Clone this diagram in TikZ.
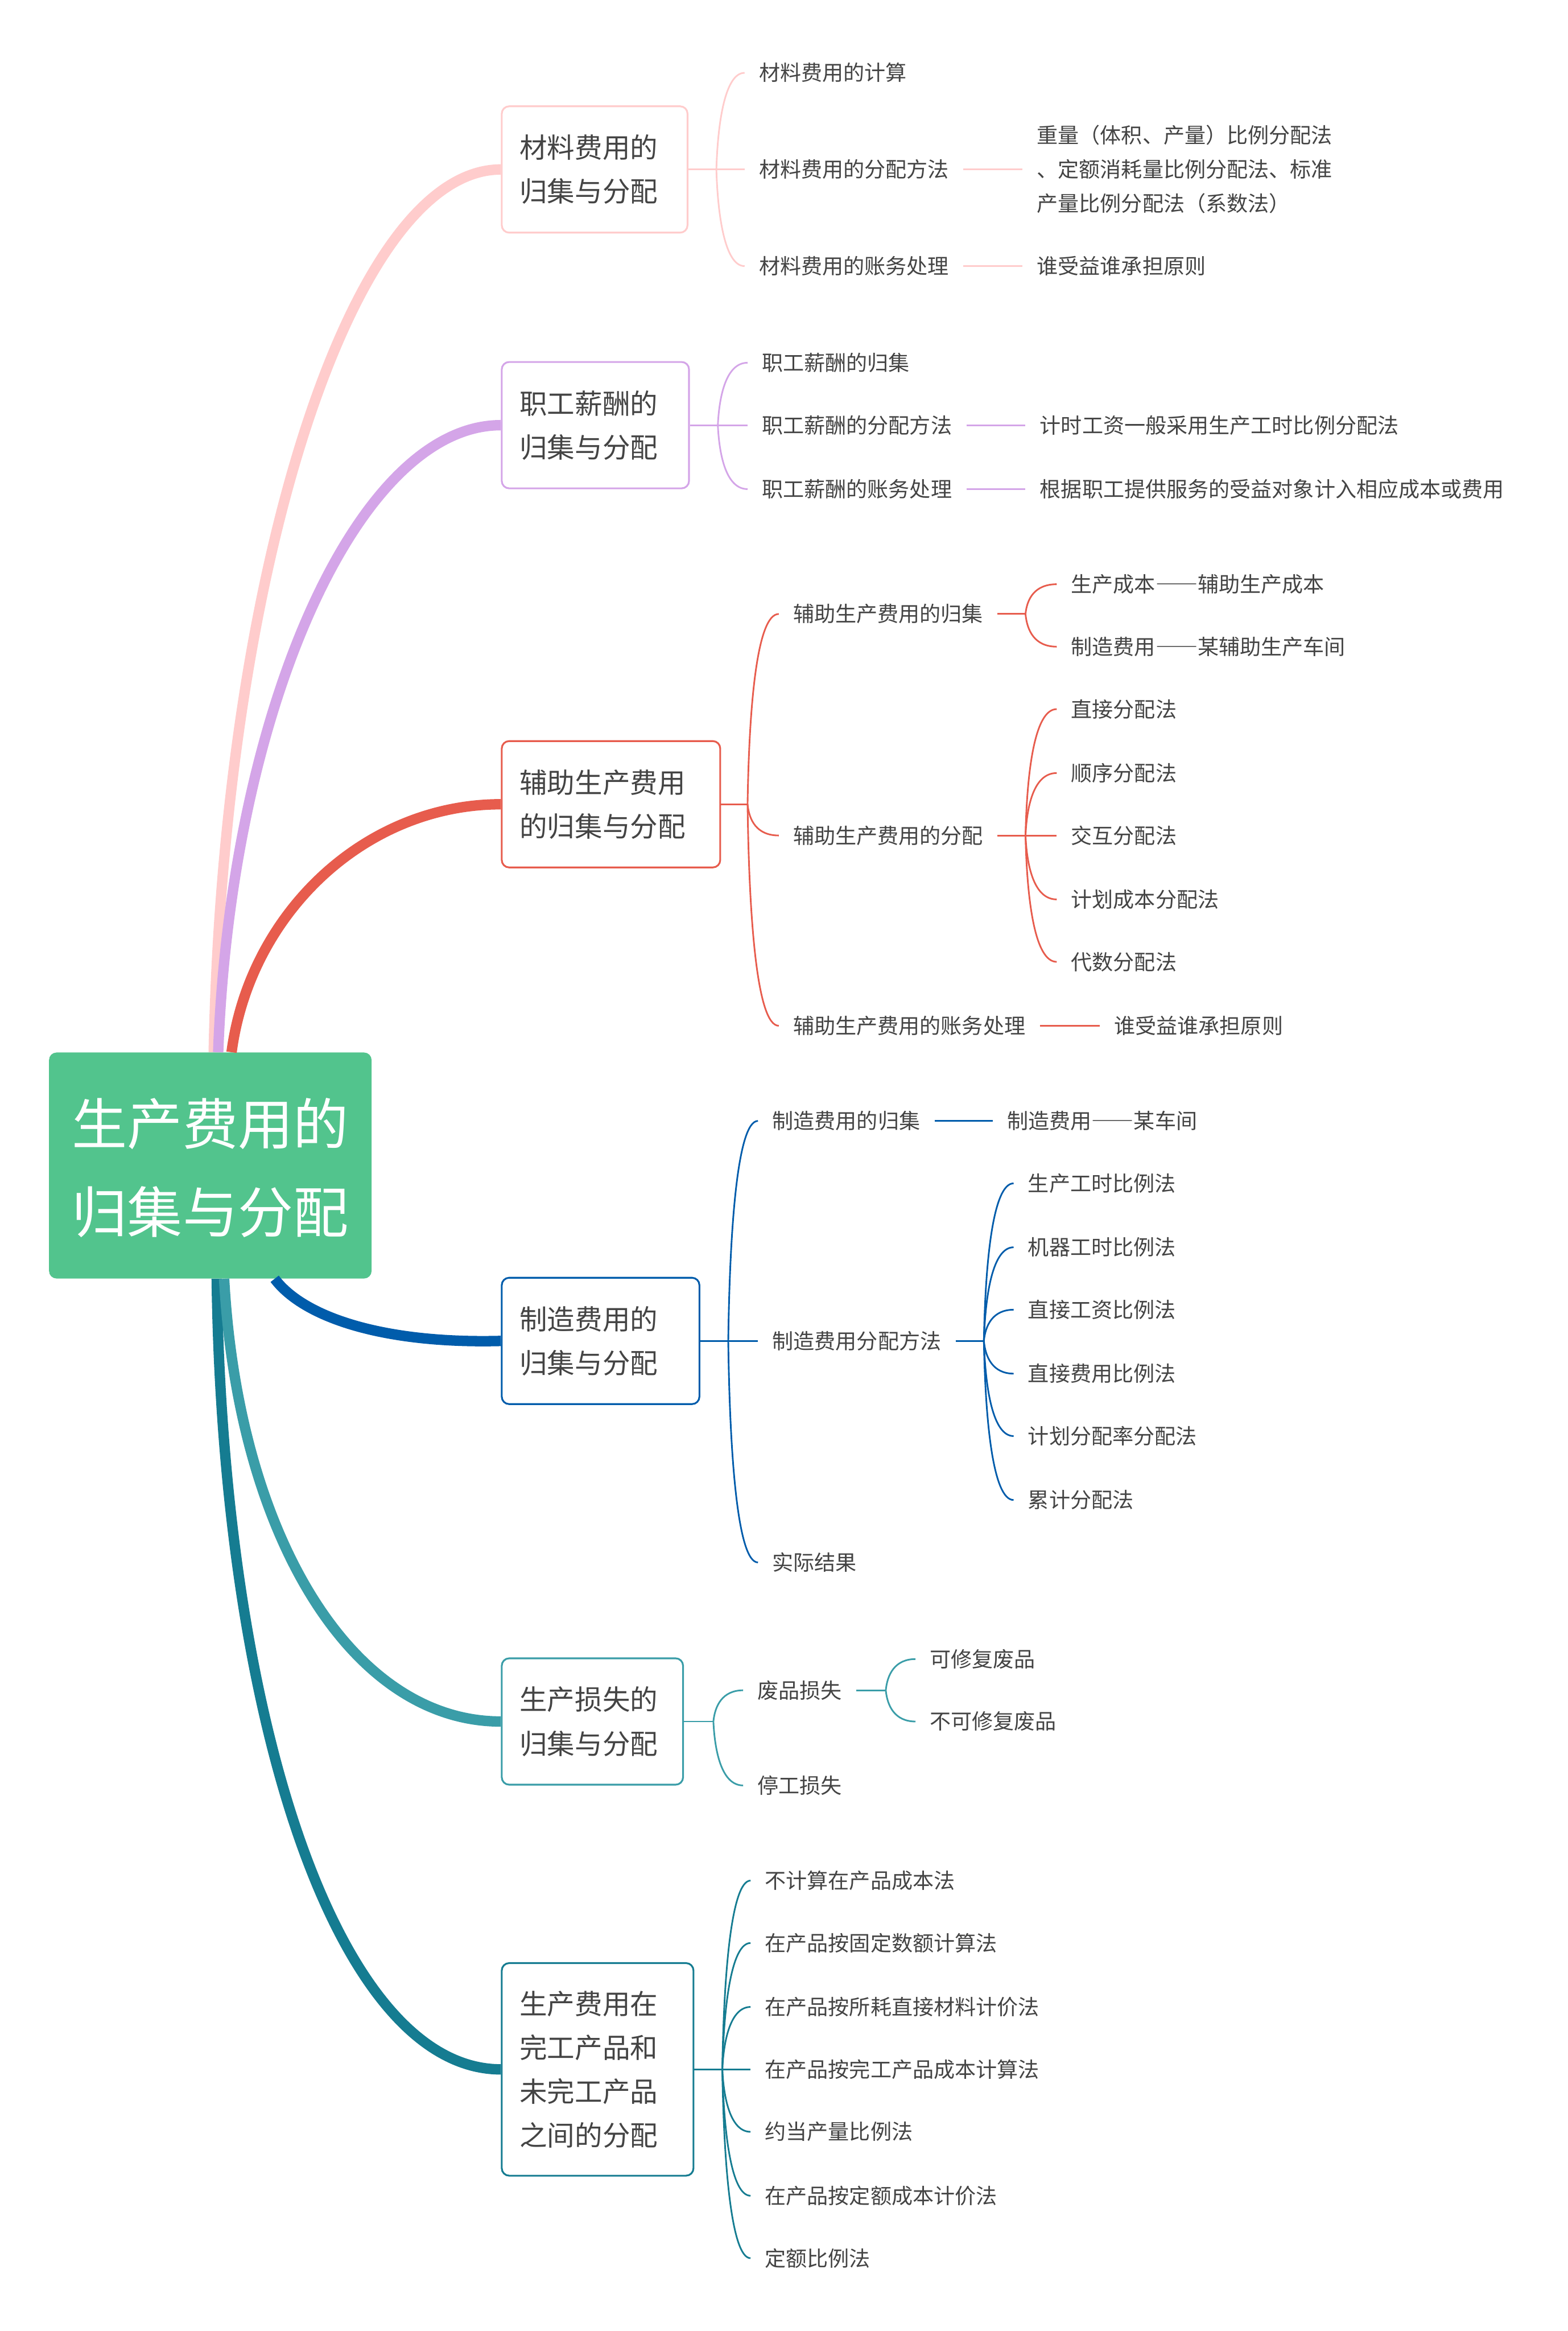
\documentclass[tikz,border=0pt]{standalone}
\usepackage{fontspec}
\setmainfont{Noto Sans CJK SC}
\newfontfamily\widefont[RawFeature=+fwid]{Noto Sans CJK SC}
\usepackage{xcolor}
\usepackage{tikz}
\usetikzlibrary{calc}
\definecolor{rootgreen}{RGB}{82,196,141}
\definecolor{matpink}{RGB}{255,204,204}
\definecolor{paypurple}{RGB}{212,165,232}
\definecolor{auxred}{RGB}{231,92,77}
\definecolor{ovhblue}{RGB}{0,92,171}
\definecolor{losteal}{RGB}{58,157,168}
\definecolor{wipteal}{RGB}{21,124,145}
\definecolor{inkgray}{RGB}{68,68,68}
\newcommand{\leaffont}{\fontsize{14.2}{23}\selectfont}
\newcommand{\topicfont}{\fontsize{18.6}{29.5}\selectfont}
\newcommand{\rootfont}{\fontsize{37.2}{59}\selectfont}
\newcommand{\dashes}{{\widefont ——}}

\begin{document}
\begin{tikzpicture}[x=1pt, y=-1pt,
  every node/.style={text=inkgray, font=\leaffont},
  root/.style={rectangle, fill=rootgreen, rounded corners=5pt,
               minimum width=217pt, minimum height=152pt,
               align=center, text=white, font=\rootfont},
  topic/.style 2 args={rectangle, draw=#1, fill=white, line width=1.2pt,
               rounded corners=5pt, anchor=west, inner xsep=12pt,
               text width=#2, align=left, minimum height=85pt, font=\topicfont},
  leaf/.style={anchor=west, inner xsep=9.5pt, inner ysep=2pt,
               text height=11.6pt, text depth=0.9pt},
  note/.style={anchor=west, inner xsep=9.5pt, align=left},
  limb/.style={draw=#1, line width=7pt},
  twig/.style={draw=#1, line width=1.1pt},
  fork/.style={to path={.. controls ($(\tikztostart)!.5!(\tikztostart |- \tikztotarget)+(1,0)$)
               and ($(\tikztostart |- \tikztotarget)+(6,0)$) .. (\tikztotarget)}}
]
\path[use as bounding box, fill=white] (0,0) rectangle (1055,1568);

% Root and the six topics
\node[root, text depth=0pt] (root) at (141.5,784) {生产费用的\\归集与分配};
\node[topic={matpink}{101pt}]   (m1) at (337,114)  {材料费用的\\归集与分配};
\node[topic={paypurple}{102pt}] (m2) at (337,286)  {职工薪酬的\\归集与分配};
\node[topic={auxred}{123pt}]    (m3) at (337,541)  {辅助生产费用\\的归集与分配};
\node[topic={ovhblue}{109pt}]   (m4) at (337,902)  {制造费用的\\归集与分配};
\node[topic={losteal}{98pt}]    (m5) at (337,1158) {生产损失的\\归集与分配};
\node[topic={wipteal}{105pt}, minimum height=143pt] (m6) at (337,1392)
  {生产费用在\\完工产品和\\未完工产品\\之间的分配};

% Thick limbs from the root
\draw[limb=matpink]   ($(root.north west)+(111,0)$) .. controls (150,390) and (235,114) .. (m1.west);
\draw[limb=paypurple] ($(root.north west)+(114,0)$) .. controls (155,480) and (240,286) .. (m2.west);
\draw[limb=auxred]    ($(root.north west)+(123,0)$) .. controls (168,615) and (245,541) .. (m3.west);
\draw[limb=ovhblue]   ($(root.south west)+(152,0)$) .. controls (205,887) and (260,904) .. (m4.west);
\draw[limb=wipteal]   ($(root.south west)+(113,0)$) .. controls (150,1160) and (228,1392) .. (m6.west);
\draw[limb=losteal]   ($(root.south west)+(118,0)$) .. controls (160,1030) and (235,1158) .. (m5.west);

% Material costs
\coordinate (j1) at (482,114);
\foreach \n/\y/\t in {a1/49/材料费用的计算, a2/114/材料费用的分配方法, a3/179/材料费用的账务处理}
  \node[leaf] (\n) at (501,\y) {\t};
\node[note] (a2x) at (688,114) {重量（体积、产量）比例分配法\\、定额消耗量比例分配法、标准\\产量比例分配法（系数法）};
\node[leaf] (a3x) at (688,179) {谁受益谁承担原则};
\draw[twig=matpink] (m1.east) -- (j1);
\foreach \c in {a1,a2,a3} \draw[twig=matpink] (j1) to[fork] (\c.west);
\draw[twig=matpink] (a2) -- (a2x);
\draw[twig=matpink] (a3) -- (a3x);

% Payroll
\coordinate (j2) at (483,286);
\foreach \n/\y/\t in {b1/244/职工薪酬的归集, b2/286/职工薪酬的分配方法, b3/329/职工薪酬的账务处理}
  \node[leaf] (\n) at (503,\y) {\t};
\node[leaf] (b2x) at (690,286) {计时工资一般采用生产工时比例分配法};
\node[leaf] (b3x) at (690,329) {根据职工提供服务的受益对象计入相应成本或费用};
\draw[twig=paypurple] (m2.east) -- (j2);
\foreach \c in {b1,b2,b3} \draw[twig=paypurple] (j2) to[fork] (\c.west);
\draw[twig=paypurple] (b2) -- (b2x);
\draw[twig=paypurple] (b3) -- (b3x);

% Auxiliary production
\coordinate (j3) at (503,541);
\foreach \n/\y/\t in {c1/413/辅助生产费用的归集, c2/562/辅助生产费用的分配, c3/690/辅助生产费用的账务处理}
  \node[leaf] (\n) at (524,\y) {\t};
\node[leaf] (c3x) at (740,690) {谁受益谁承担原则};
\draw[twig=auxred] (m3.east) -- (j3);
\foreach \c in {c1,c2,c3} \draw[twig=auxred] (j3) to[fork] (\c.west);
\draw[twig=auxred] (c3) -- (c3x);
\coordinate (jc1) at (690,413);
\node[leaf] (c11) at (711,393) {生产成本\dashes 辅助生产成本};
\node[leaf] (c12) at (711,435) {制造费用\dashes 某辅助生产车间};
\draw[twig=auxred] (c1) -- (jc1);
\foreach \c in {c11,c12} \draw[twig=auxred] (jc1) to[fork] (\c.west);
\coordinate (jc2) at (690,562);
\foreach \n/\y/\t in {c21/477/直接分配法, c22/520/顺序分配法, c23/562/交互分配法, c24/605/计划成本分配法, c25/647/代数分配法}
  \node[leaf] (\n) at (711,\y) {\t};
\draw[twig=auxred] (c2) -- (jc2);
\foreach \c in {c21,c22,c23,c24,c25} \draw[twig=auxred] (jc2) to[fork] (\c.west);

% Manufacturing overhead
\coordinate (j4) at (490,902);
\foreach \n/\y/\t in {d1/754/制造费用的归集, d2/902/制造费用分配方法, d3/1051/实际结果}
  \node[leaf] (\n) at (510,\y) {\t};
\node[leaf] (d1x) at (668,754) {制造费用\dashes 某车间};
\draw[twig=ovhblue] (m4.east) -- (j4);
\foreach \c in {d1,d2,d3} \draw[twig=ovhblue] (j4) to[fork] (\c.west);
\draw[twig=ovhblue] (d1) -- (d1x);
\coordinate (jd2) at (662,902);
\foreach \n/\y/\t in {d21/796/生产工时比例法, d22/839/机器工时比例法, d23/881/直接工资比例法, d24/924/直接费用比例法, d25/966/计划分配率分配法, d26/1009/累计分配法}
  \node[leaf] (\n) at (682,\y) {\t};
\draw[twig=ovhblue] (d2) -- (jd2);
\foreach \c in {d21,d22,d23,d24,d25,d26} \draw[twig=ovhblue] (jd2) to[fork] (\c.west);

% Production losses
\coordinate (j5) at (480,1158);
\foreach \n/\y/\t in {e1/1137/废品损失, e2/1201/停工损失}
  \node[leaf] (\n) at (500,\y) {\t};
\draw[twig=losteal] (m5.east) -- (j5);
\foreach \c in {e1,e2} \draw[twig=losteal] (j5) to[fork] (\c.west);
\coordinate (je1) at (596,1137);
\node[leaf] (e11) at (616,1116) {可修复废品};
\node[leaf] (e12) at (616,1158) {不可修复废品};
\draw[twig=losteal] (e1) -- (je1);
\foreach \c in {e11,e12} \draw[twig=losteal] (je1) to[fork] (\c.west);

% Finished versus unfinished products
\coordinate (j6) at (486,1392);
\foreach \n/\y/\t in {f1/1265/不计算在产品成本法, f2/1307/在产品按固定数额计算法, f3/1350/在产品按所耗直接材料计价法, f4/1392/在产品按完工产品成本计算法, f5/1434/约当产量比例法, f6/1477/在产品按定额成本计价法, f7/1519/定额比例法}
  \node[leaf] (\n) at (505,\y) {\t};
\draw[twig=wipteal] (m6.east) -- (j6);
\foreach \c in {f1,f2,f3,f4,f5,f6,f7} \draw[twig=wipteal] (j6) to[fork] (\c.west);
\end{tikzpicture}
\end{document}
